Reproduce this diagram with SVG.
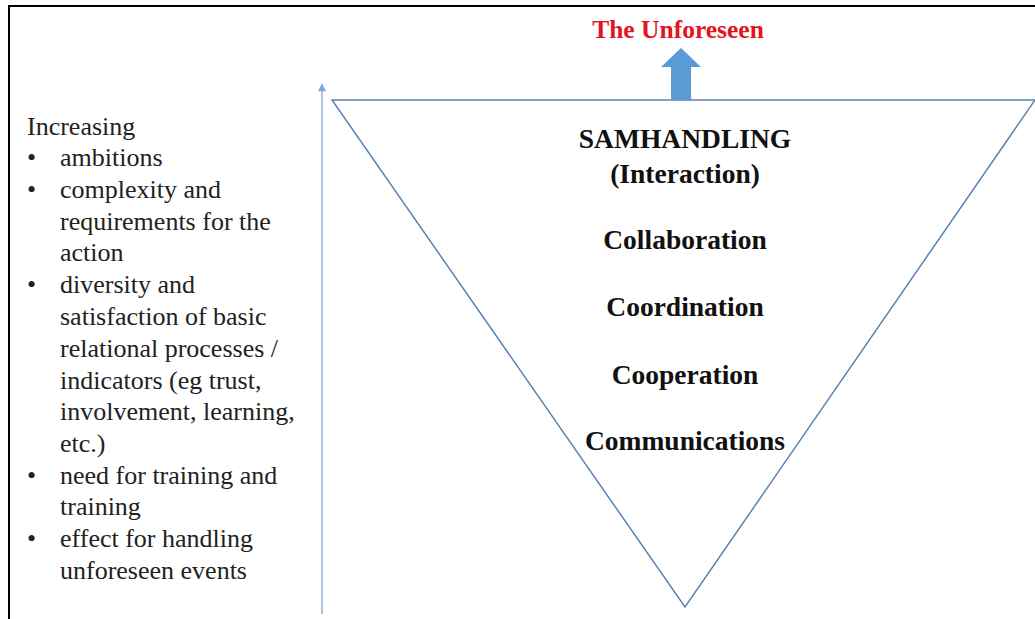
<svg xmlns="http://www.w3.org/2000/svg" width="1035" height="619" viewBox="0 0 1035 619">
<defs>
<style>
.lt{font-family:"Liberation Serif","Times New Roman",serif;font-size:26px;fill:#222}
.bt{font-family:"Liberation Serif","Times New Roman",serif;font-size:27.5px;font-weight:bold;fill:#111;text-anchor:middle}
.red{font-family:"Liberation Serif","Times New Roman",serif;font-size:25.5px;font-weight:bold;fill:#e3141e;text-anchor:middle}
</style>
<marker id="ah" viewBox="0 0 10 10" refX="9" refY="5" markerWidth="9" markerHeight="8" orient="auto" markerUnits="userSpaceOnUse">
<path d="M0,0 L10,5 L0,10 Z" fill="#7fa6d6"/>
</marker>
</defs>
<rect x="0" y="0" width="1035" height="619" fill="#fff"/>
<path d="M9,619 V6 H1035" fill="none" stroke="#000" stroke-width="2"/>
<g id="left-text">
<text class="lt" x="27" y="135">Increasing</text>
<text class="lt" x="27" y="166">•</text><text class="lt" x="60" y="166">ambitions</text>
<text class="lt" x="27" y="198">•</text><text class="lt" x="60" y="198">complexity and</text>
<text class="lt" x="60" y="230">requirements for the</text>
<text class="lt" x="60" y="261">action</text>
<text class="lt" x="27" y="293">•</text><text class="lt" x="60" y="293">diversity and</text>
<text class="lt" x="60" y="325">satisfaction of basic</text>
<text class="lt" x="60" y="357">relational processes /</text>
<text class="lt" x="60" y="389">indicators (eg trust,</text>
<text class="lt" x="60" y="420">involvement, learning,</text>
<text class="lt" x="60" y="452">etc.)</text>
<text class="lt" x="27" y="484">•</text><text class="lt" x="60" y="484">need for training and</text>
<text class="lt" x="60" y="515">training</text>
<text class="lt" x="27" y="547">•</text><text class="lt" x="60" y="547">effect for handling</text>
<text class="lt" x="60" y="579">unforeseen events</text>
</g>
<g id="connectors">
<line x1="322" y1="614" x2="322" y2="84" stroke="#a9c4e6" stroke-width="2" marker-end="url(#ah)"/>
</g>
<g id="triangle">
<polygon points="332,100 1035,100 685,607" fill="none" stroke="#5a82b0" stroke-width="1.5"/>
<text class="bt" x="685" y="148">SAMHANDLING</text>
<text class="bt" x="685" y="183">(Interaction)</text>
<text class="bt" x="685" y="249">Collaboration</text>
<text class="bt" x="685" y="316">Coordination</text>
<text class="bt" x="685" y="384">Cooperation</text>
<text class="bt" x="685" y="450">Communications</text>
</g>
<g id="unforeseen">
<path d="M671,100 V67 H661 L681,48 L701,67 H691 V100 Z" fill="#5b9bd5"/>
<text class="red" x="678" y="38">The Unforeseen</text>
</g>
</svg>
